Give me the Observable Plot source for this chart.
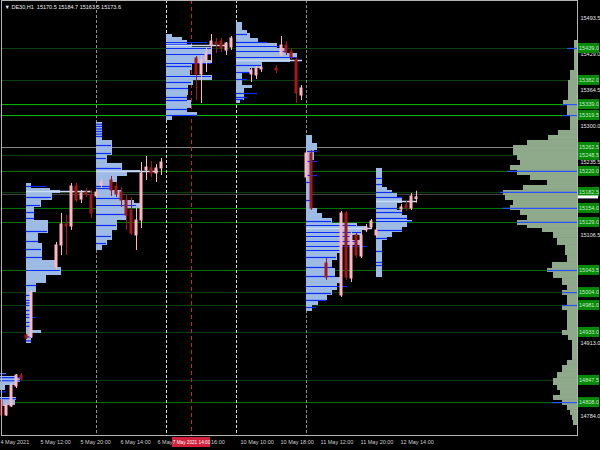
<!DOCTYPE html>
<html><head><meta charset="utf-8">
<script src="https://cdn.jsdelivr.net/npm/d3@7"></script>
<script src="https://cdn.jsdelivr.net/npm/@observablehq/plot@0.6"></script>
<style>
html,body{margin:0;padding:0;background:#000;}
#chart svg{display:block;}
</style></head><body><div id="chart"></div>
<script>
// ---------- chart data ----------
const title = "▼ DE30,H1  15170.5 15184.7 15163.5 15173.6";
const priceTicks = [15493.5, 15429.0, 15364.5, 15300.0, 15235.5, 15171.0, 15106.5, 15042.0, 14977.5, 14913.0, 14848.5, 14784.0];
const timeTickBars = [-1, 7, 15, 23, 31, 39, 47, 55, 63, 71, 79];
const timeTickLabels = ["4 May 2021", "5 May 12:00", "5 May 20:00", "6 May 14:00", "6 May 22:00", "7 May 16:00", "10 May 10:00", "10 May 18:00", "11 May 12:00", "11 May 20:00", "12 May 14:00"];
const crosshairBar = 37;
const crosshairLabel = "7 May 2021 14:00";
const separatorBars = [18, 32, 46, 60];
const separatorKinds = ["grey", "white", "white", "grey"];
const levelPrices = [15439.0, 15382.0, 15339.0, 15319.5, 15262.5, 15248.5, 15220.0, 15182.5, 15179.0, 15154.0, 15129.0, 15043.5, 15004.0, 14981.0, 14933.0, 14847.5, 14808.0];
const levelKinds  = ["dim", "dim", "bright", "bright", "grey", "dim", "green", "dim", "greyline", "green", "green", "green", "dim", "dim", "dim", "dim", "green"];
const currentPrice = 15173.6;

// candles: [bar, open, high, low, close]
const candles = [
  [-1, 14811.8, 14815.3, 14783.3, 14785.1],
  [0, 14785.1, 14806.4, 14783.3, 14802.9],
  [1, 14801.1, 14842.1, 14799.3, 14838.5],
  [2, 14836.7, 14858.1, 14833.2, 14856.3],
  [3, 14856.3, 14859.9, 14847.4, 14849.2],
  [4, 14927.6, 14929.4, 14920.4, 14922.2],
  [5, 14924.0, 15007.8, 14922.2, 15004.2],
  [10, 15048.8, 15093.3, 15043.4, 15088.0],
  [11, 15088.0, 15145.0, 15070.1, 15125.4],
  [12, 15125.4, 15141.4, 15070.1, 15121.8],
  [13, 15121.8, 15198.4, 15114.7, 15193.1],
  [14, 15193.1, 15198.4, 15164.6, 15168.1],
  [15, 15169.9, 15186.0, 15162.8, 15180.6],
  [16, 15182.4, 15189.5, 15173.5, 15178.8],
  [17, 15177.0, 15186.0, 15136.1, 15145.0],
  [18, 15175.3, 15187.8, 15171.7, 15182.4],
  [19, 15194.9, 15205.6, 15189.5, 15200.2],
  [21, 15203.8, 15210.9, 15175.3, 15186.0],
  [22, 15193.1, 15200.2, 15173.5, 15178.8],
  [23, 15182.4, 15191.3, 15155.7, 15168.1],
  [24, 15168.1, 15177.0, 15114.7, 15141.4],
  [25, 15150.3, 15173.5, 15105.8, 15109.3],
  [26, 15105.8, 15153.9, 15079.0, 15132.5],
  [27, 15132.5, 15235.8, 15118.2, 15216.2],
  [28, 15221.6, 15246.5, 15203.8, 15226.9],
  [29, 15225.2, 15237.6, 15209.1, 15216.2],
  [30, 15216.2, 15232.3, 15200.2, 15225.2],
  [31, 15225.2, 15243.0, 15212.7, 15235.8],
  [38, 15421.2, 15424.7, 15346.3, 15392.6],
  [39, 15392.6, 15426.5, 15341.0, 15417.6],
  [40, 15417.6, 15439.0, 15396.2, 15430.1],
  [41, 15444.3, 15463.9, 15412.2, 15451.4],
  [42, 15449.7, 15456.8, 15430.1, 15446.1],
  [43, 15451.4, 15456.8, 15431.8, 15439.0],
  [44, 15435.4, 15449.7, 15426.5, 15447.9],
  [45, 15440.8, 15460.4, 15435.4, 15456.8],
  [49, 15392.6, 15403.3, 15378.4, 15399.8],
  [50, 15390.9, 15406.9, 15383.7, 15403.3],
  [51, 15401.6, 15408.7, 15396.2, 15405.1],
  [54, 15403.3, 15408.7, 15394.4, 15399.8],
  [55, 15426.5, 15460.4, 15424.7, 15444.3],
  [56, 15444.3, 15451.4, 15426.5, 15431.8],
  [57, 15433.6, 15439.0, 15417.6, 15422.9],
  [58, 15417.6, 15422.9, 15341.0, 15358.8],
  [59, 15355.2, 15373.0, 15346.3, 15367.7],
  [60, 15209.1, 15257.2, 15203.8, 15251.9],
  [61, 15251.9, 15257.2, 15150.3, 15153.9],
  [64, 15055.9, 15064.8, 15025.6, 15030.9],
  [67, 14998.9, 15148.5, 14995.3, 15145.0],
  [68, 15145.0, 15148.5, 15025.6, 15030.9],
  [69, 15029.2, 15111.1, 15022.0, 15105.8],
  [70, 15105.8, 15109.3, 15064.8, 15070.1],
  [71, 15068.4, 15111.1, 15064.8, 15105.8],
  [72, 15114.7, 15125.4, 15111.1, 15120.0],
  [73, 15120.0, 15134.3, 15116.5, 15130.7],
  [74, 15105.8, 15118.2, 15102.2, 15114.7],
  [79, 15152.1, 15161.0, 15146.7, 15155.7],
  [80, 15159.2, 15166.4, 15148.5, 15153.9],
  [81, 15153.9, 15180.6, 15150.3, 15175.3],
  [82, 15170.5, 15184.7, 15163.5, 15173.6]
];

// session volume profiles: rows [priceTop, priceBottom, volume (bars)], blue rows [price, volume], poc [price, volume]
const may4Start = -10;
const may4Rows = [[14859.9, 14858.1, 10.0], [14854.5, 14851.0, 12.2], [14851.0, 14843.9, 12.8], [14843.9, 14838.5, 11.8], [14838.5, 14829.6, 9.8], [14817.1, 14811.8, 12.0], [14811.8, 14802.9, 11.8], [14802.9, 14801.1, 9.8]];
const may4Blue = [[14859.0, 10.0], [14852.7, 12.8], [14847.0, 12.8], [14827.0, 10.0], [14815.0, 12.0]];

const may5Start = 4;
const may5Rows = [[15198.4, 15189.5, 1.0], [15189.5, 15186.0, 4.8], [15186.0, 15180.6, 6.8], [15180.6, 15168.1, 5.2], [15168.1, 15155.7, 3.0], [15155.7, 15132.5, 1.6], [15132.5, 15109.3, 4.4], [15109.3, 15091.5, 2.4], [15091.5, 15061.2, 3.2], [15061.2, 15048.8, 5.8], [15048.8, 15034.5, 7.0], [15034.5, 15020.3, 4.0], [15020.3, 15004.2, 2.0], [15004.2, 14936.5, 1.0], [14936.5, 14931.2, 3.0], [14931.2, 14913.3, 1.0]];
const may5Blue = [[15193.1, 4.0], [15173.5, 5.0], [15159.2, 2.8], [15146.7, 1.6], [15136.1, 1.6], [15112.9, 4.2], [15095.1, 2.4], [15080.8, 3.0], [15066.6, 3.2], [15043.4, 6.8], [15016.7, 2.0], [14998.9, 1.0], [14990.0, 1.0], [14985.5, 1.0], [14981.1, 1.0], [14972.1, 1.0], [14965.0, 1.0], [14959.7, 2.0], [14950.8, 1.0], [14944.0, 1.0], [14925.0, 1.0], [14918.0, 1.0]];
const may5Poc = [15184.2, 12.9];

const may6Start = 18;
const may6Rows = [[15307.1, 15275.0, 1.2], [15275.0, 15248.3, 3.2], [15248.3, 15234.1, 2.2], [15234.1, 15221.6, 5.2], [15221.6, 15218.0, 8.8], [15218.0, 15210.9, 6.2], [15210.9, 15200.2, 4.2], [15200.2, 15186.0, 3.2], [15186.0, 15168.1, 5.2], [15168.1, 15162.8, 7.6], [15162.8, 15153.9, 8.8], [15153.9, 15132.5, 6.2], [15132.5, 15114.7, 4.2], [15114.7, 15096.9, 3.2], [15096.9, 15088.0, 2.2], [15088.0, 15079.0, 1.2]];
const may6Blue = [[15304.0, 1.2], [15300.0, 1.2], [15295.5, 1.2], [15291.1, 1.2], [15286.5, 1.2], [15282.2, 1.2], [15266.1, 3.0], [15251.9, 3.0], [15243.0, 2.0], [15225.2, 5.0], [15193.1, 3.0], [15189.5, 3.0], [15171.7, 5.0], [15159.2, 8.0], [15143.2, 6.0], [15123.6, 4.0], [15104.0, 3.0], [15091.5, 2.0]];
const may6Poc = [15219.8, 12.4];

const may7Start = 32;
const may7Rows = [[15463.9, 15458.6, 1.2], [15458.6, 15453.2, 3.2], [15453.2, 15446.1, 4.2], [15446.1, 15440.8, 5.2], [15440.8, 15426.5, 9.2], [15426.5, 15417.6, 8.2], [15417.6, 15412.2, 9.2], [15412.2, 15399.8, 5.2], [15399.8, 15390.9, 4.8], [15390.9, 15382.0, 9.2], [15382.0, 15373.0, 5.4], [15373.0, 15355.2, 4.4], [15355.2, 15346.3, 4.2], [15346.3, 15332.1, 5.0], [15332.1, 15324.9, 4.2], [15324.9, 15317.8, 6.2], [15317.8, 15310.7, 1.2]];
const may7Blue = [[15449.7, 8.2], [15446.1, 5.0], [15439.0, 9.0], [15428.3, 9.0], [15412.2, 9.0], [15406.9, 5.0], [15389.1, 9.0], [15378.4, 5.0], [15367.7, 4.4], [15351.7, 4.2], [15346.3, 4.2], [15330.3, 4.2], [15319.6, 6.2]];
const may7Poc = [15444.3, 12.0];

const may10Start = 46;
const may10Rows = [[15485.3, 15471.0, 1.2], [15471.0, 15465.7, 2.2], [15465.7, 15456.8, 2.8], [15456.8, 15447.9, 4.4], [15447.9, 15439.0, 8.2], [15439.0, 15430.1, 10.2], [15430.1, 15421.2, 12.2], [15421.2, 15414.0, 10.8], [15414.0, 15403.3, 5.2], [15403.3, 15396.2, 2.8], [15396.2, 15373.0, 1.2], [15373.0, 15367.7, 3.2], [15367.7, 15346.3, 1.6], [15346.3, 15341.0, 0.8]];
const may10Blue = [[15463.9, 2.2], [15449.7, 6.2], [15442.5, 9.2], [15433.6, 10.0], [15422.9, 12.0], [15408.7, 5.0], [15396.2, 2.8], [15383.7, 2.2], [15358.8, 4.2], [15351.7, 2.2], [15348.1, 1.4]];
const may10Poc = [15417.6, 13.2];

const may11Start = 60;
const may11Rows = [[15284.0, 15269.7, 1.2], [15269.7, 15257.2, 2.2], [15257.2, 15239.4, 1.6], [15239.4, 15153.9, 1.2], [15153.9, 15145.0, 2.2], [15145.0, 15136.1, 3.2], [15136.1, 15127.2, 5.2], [15127.2, 15121.8, 10.2], [15121.8, 15114.7, 12.2], [15114.7, 15105.8, 11.2], [15105.8, 15096.9, 9.2], [15096.9, 15088.0, 10.8], [15088.0, 15073.7, 7.2], [15073.7, 15061.2, 6.2], [15061.2, 15047.0, 5.2], [15047.0, 15030.9, 5.8], [15030.9, 15020.3, 7.2], [15020.3, 15007.8, 6.2], [15007.8, 14998.9, 5.2], [14998.9, 14990.0, 4.2], [14990.0, 14981.1, 2.4], [14981.1, 14970.4, 1.2]];
const may11Blue = [[15255.5, 2.2], [15237.6, 2.2], [15212.7, 2.2], [15200.2, 1.2], [15168.1, 1.2], [15130.7, 5.0], [15123.6, 10.0], [15111.1, 11.2], [15104.0, 9.0], [15095.1, 10.0], [15086.2, 12.2], [15079.0, 7.0], [15066.6, 6.0], [15048.8, 5.2], [15032.7, 5.8], [15014.9, 8.2], [15002.5, 5.0], [14990.0, 4.0], [14977.5, 2.0]];
const may11Poc = [15118.2, 13.2];

const may12Start = 74;
const may12Rows = [[15225.2, 15191.3, 1.2], [15191.3, 15186.0, 2.2], [15186.0, 15180.6, 3.2], [15180.6, 15171.7, 4.2], [15171.7, 15162.8, 5.2], [15162.8, 15150.3, 4.2], [15150.3, 15141.4, 5.2], [15141.4, 15132.5, 6.2], [15132.5, 15128.9, 7.2], [15128.9, 15120.0, 6.2], [15120.0, 15111.1, 5.2], [15111.1, 15102.2, 3.2], [15102.2, 15096.9, 2.2], [15096.9, 15030.9, 1.2]];
const may12Blue = [[15207.4, 1.2], [15196.6, 1.2], [15182.4, 3.2], [15173.5, 5.2], [15153.9, 4.2], [15146.7, 5.2], [15136.1, 6.2], [15130.7, 7.2], [15114.7, 5.2], [15100.5, 2.2], [15077.3, 1.2], [15057.7, 1.2], [15052.3, 1.2]];
const may12Poc = [15166.4, 8.2];

// composite (whole range) profile anchored at the right edge: [priceTop, priceBottom, volume]
const compositeRows = [[15453.2, 15399.8, 0.6], [15399.8, 15382.0, 1.4], [15382.0, 15346.3, 1.8], [15346.3, 15337.4, 2.8], [15337.4, 15319.6, 2.0], [15319.6, 15292.9, 1.4], [15292.9, 15284.0, 3.8], [15284.0, 15275.1, 5.8], [15275.1, 15266.1, 10.0], [15266.1, 15257.2, 12.8], [15257.2, 15248.3, 12.8], [15248.3, 15239.4, 12.0], [15239.4, 15230.5, 11.4], [15230.5, 15221.6, 13.4], [15221.6, 15212.7, 12.0], [15212.7, 15203.8, 9.4], [15203.8, 15194.9, 6.0], [15194.9, 15186.0, 10.8], [15186.0, 15177.0, 14.8], [15177.0, 15168.1, 14.4], [15168.1, 15159.2, 12.8], [15159.2, 15150.3, 13.4], [15150.3, 15141.4, 11.4], [15141.4, 15132.5, 10.0], [15132.5, 15123.6, 12.0], [15123.6, 15118.2, 10.0], [15118.2, 15111.1, 7.0], [15111.1, 15100.5, 4.8], [15100.5, 15088.0, 4.0], [15088.0, 15070.1, 2.4], [15070.1, 15057.7, 2.0], [15057.7, 15047.0, 5.0], [15047.0, 15039.9, 6.0], [15039.9, 15029.2, 4.8], [15029.2, 15016.7, 3.0], [15016.7, 15007.8, 2.0], [15007.8, 14998.9, 3.0], [14998.9, 14981.1, 2.0], [14981.1, 14972.1, 3.0], [14972.1, 14936.5, 2.0], [14936.5, 14927.6, 3.0], [14927.6, 14918.7, 1.8], [14918.7, 14883.1, 1.0], [14883.1, 14874.2, 2.0], [14874.2, 14861.7, 3.0], [14861.7, 14851.0, 4.0], [14851.0, 14838.5, 4.8], [14838.5, 14829.6, 4.0], [14829.6, 14820.7, 3.4], [14820.7, 14811.8, 4.8], [14811.8, 14802.9, 3.0], [14802.9, 14794.0, 2.0], [14794.0, 14785.1, 1.4], [14785.1, 14776.1, 1.0], [14776.1, 14767.2, 0.8]];
const compositeBlue = [[15439.0, 2.0], [15339.0, 3.0], [15319.5, 3.0], [15220.0, 14.0], [15182.5, 15.4], [15154.0, 14.8], [15129.0, 12.0], [15043.5, 6.0], [15004.0, 3.0], [14981.0, 3.0], [14808.0, 5.0]];

// ---------- build ----------
const X_MIN = -1, X_MAX = 114.2, P_MIN = 14749.4, P_MAX = 15524.5;
const sessions = [
  {start: may4Start, rows: may4Rows, blue: may4Blue, poc: null},
  {start: may5Start, rows: may5Rows, blue: may5Blue, poc: may5Poc},
  {start: may6Start, rows: may6Rows, blue: may6Blue, poc: may6Poc},
  {start: may7Start, rows: may7Rows, blue: may7Blue, poc: may7Poc},
  {start: may10Start, rows: may10Rows, blue: may10Blue, poc: may10Poc},
  {start: may11Start, rows: may11Rows, blue: may11Blue, poc: may11Poc},
  {start: may12Start, rows: may12Rows, blue: may12Blue, poc: may12Poc}
];
const profRects = sessions.flatMap(s => s.rows.map(([top, bottom, vol]) => ({start: s.start, top, bottom, vol})));
const profBlue = sessions.flatMap(s => s.blue.map(([price, vol]) => ({start: s.start, price, vol})));
const profPoc = sessions.filter(s => s.poc).map(s => ({start: s.start, price: s.poc[0], vol: s.poc[1]}));

const levels = levelPrices.map((p, i) => ({price: p, kind: levelKinds[i]}));
const lineColor = {bright: "#00c400", green: "#067a06", dim: "#0c420c", grey: "#8a8a8a", greyline: "#4a4a4a"};
const labelLevels = levels.filter(d => d.kind !== "greyline");
// price-axis labels that sit fully under a level label or the bid marker are not drawn (as in the reference)
const visibleTicks = priceTicks.filter(t => !labelLevels.some(l => Math.abs(l.price - t) < 8) && Math.abs(t - currentPrice) > 8);
const separators = separatorBars.map((b, i) => ({bar: b, kind: separatorKinds[i]}));

// time labels: the part hidden under the crosshair time box is not shown (as in the reference)
const BOX_HALF = 3.8;   // crosshair box half width, in bars
const timeTicks = timeTickBars.map((b, i) => {
  const label = timeTickLabels[i];
  const sp = label.lastIndexOf(" ");
  if (b < crosshairBar - BOX_HALF && b + 6 > crosshairBar - BOX_HALF) return {bar: b, text: label.slice(0, sp), shift: -3};
  if (b >= crosshairBar - BOX_HALF && b < crosshairBar + BOX_HALF) return {bar: b, text: label.slice(sp + 1), shift: (crosshairBar + BOX_HALF - b) * 5 + 1.5};
  return {bar: b, text: label, shift: 0};
});

const UP = "#ffb6c1", DOWN = "#a3191b";
const candleColor = d => d[4] >= d[1] ? UP : DOWN;
const FONT = "Liberation Sans, Arial, sans-serif";

const chart = Plot.plot({
  width: 600, height: 450,
  marginLeft: 1, marginRight: 23, marginTop: 0, marginBottom: 15,
  x: {domain: [X_MIN, X_MAX], axis: null},
  y: {domain: [P_MIN, P_MAX], axis: null},
  color: {type: "identity"},
  style: {background: "#000", fontFamily: FONT, overflow: "visible"},
  marks: [
    Plot.ruleY(levels, {y: "price", stroke: d => lineColor[d.kind], strokeWidth: 1}),
    Plot.ruleX(separators, {x: "bar", stroke: d => d.kind === "white" ? "#d8d8d8" : "#8c8c8c", strokeDasharray: "3,2", strokeWidth: 1}),
    Plot.ruleX([crosshairBar], {x: d => d, stroke: "#c8203c", strokeDasharray: "4,3", strokeWidth: 1}),
    // session profiles
    Plot.rect(profRects, {x1: "start", x2: d => d.start + d.vol, y1: "top", y2: "bottom", fill: "#9dbbe4"}),
    Plot.ruleY(profBlue, {y: "price", x1: "start", x2: d => d.start + d.vol, stroke: "#0b2cff", strokeWidth: 1.2}),
    Plot.ruleY(profPoc, {y: "price", x1: "start", x2: d => d.start + d.vol, stroke: "#c9daf3", strokeWidth: 1.6}),
    // composite profile
    Plot.rect(compositeRows, {x1: d => X_MAX - d[2], x2: () => X_MAX, y1: d => d[0], y2: d => d[1], fill: "#8fa98b"}),
    Plot.ruleY(compositeBlue, {y: d => d[0], x1: d => X_MAX - d[1], x2: () => X_MAX, stroke: "#2a52ff", strokeWidth: 1.2}),
    // candles
    Plot.ruleX(candles, {x: d => d[0], y1: d => d[3], y2: d => d[2], stroke: candleColor, strokeWidth: 1}),
    Plot.rect(candles, {x1: d => d[0] - 0.3, x2: d => d[0] + 0.3, y1: d => d[1], y2: d => d[4], fill: candleColor, insetTop: -0.5, insetBottom: -0.5}),
    Plot.frame({stroke: "#b4b4b4"}),
    // price axis labels
    Plot.text(visibleTicks, {x: () => X_MAX, y: d => d, dx: 3, text: d => d.toFixed(1), textAnchor: "start", fill: "#e6e6e6", fontSize: 5.5}),
    Plot.rect(labelLevels, {x1: () => X_MAX, x2: () => X_MAX, y1: "price", y2: "price", insetLeft: 1, insetRight: -22, insetTop: -5, insetBottom: -5, fill: "#078a07"}),
    Plot.text(labelLevels, {x: () => X_MAX, y: "price", dx: 11.5, text: d => d.price.toFixed(1), textAnchor: "middle", fill: "#c9ecc9", fontSize: 5.5}),
    Plot.rect([currentPrice], {x1: () => X_MAX, x2: () => X_MAX, y1: d => d, y2: d => d, insetLeft: 1, insetRight: -21, insetTop: -1.5, insetBottom: -1.5, fill: "#ffffff"}),
    // time axis labels
    ...timeTicks.map(t => Plot.text([t], {x: "bar", y: () => P_MIN, dy: 7, dx: t.shift - 1, text: "text", textAnchor: "start", fill: "#cfcfcf", fontSize: 5.5})),
    Plot.rect([crosshairBar], {x1: d => d, x2: d => d, insetLeft: -19, insetRight: -19, y1: () => P_MIN, y2: () => P_MIN, insetTop: 2, insetBottom: -12, fill: "#d0203a"}),
    Plot.text([crosshairLabel], {x: () => crosshairBar, y: () => P_MIN, dy: 7, text: d => d, textAnchor: "middle", fill: "#ffffff", fontSize: 4.7}),
    // title
    Plot.text([title], {x: () => X_MIN, y: () => P_MAX, dx: 3, dy: 7, text: d => d, textAnchor: "start", fill: "#f0f0f0", fontSize: 5.5})
  ]
});
document.getElementById("chart").appendChild(chart);
</script>
</body></html>
